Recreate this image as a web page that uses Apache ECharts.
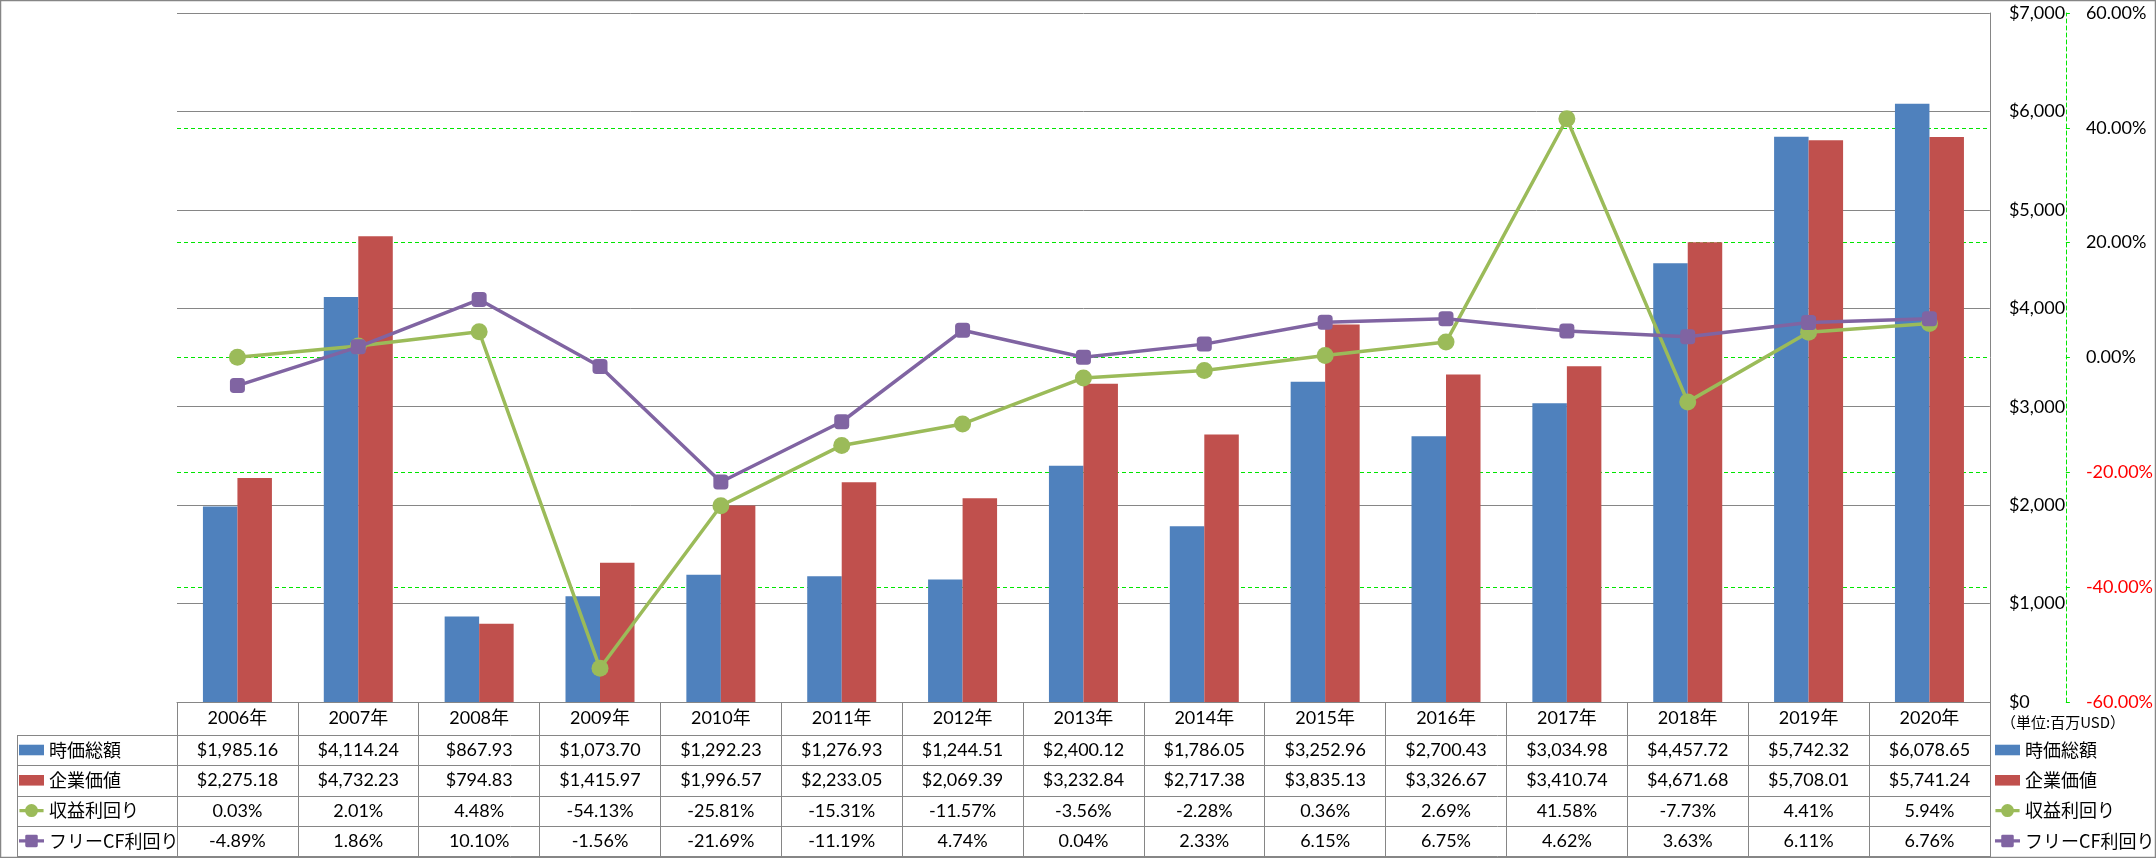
<!DOCTYPE html>
<html>
<head>
<meta charset="utf-8">
<script src="https://cdn.jsdelivr.net/npm/echarts@6/dist/echarts.min.js"></script>
<style>
html,body{margin:0;padding:0;background:#fff;}
#chart{width:2156px;height:858px;}
</style>
</head>
<body>
<div id="chart"></div>
<script>
// ---- data ----
const years = ['2006年','2007年','2008年','2009年','2010年','2011年','2012年','2013年','2014年','2015年','2016年','2017年','2018年','2019年','2020年'];
const marketCap = [1985.16,4114.24,867.93,1073.70,1292.23,1276.93,1244.51,2400.12,1786.05,3252.96,2700.43,3034.98,4457.72,5742.32,6078.65];
const enterpriseValue = [2275.18,4732.23,794.83,1415.97,1996.57,2233.05,2069.39,3232.84,2717.38,3835.13,3326.67,3410.74,4671.68,5708.01,5741.24];
const earningsYield = [0.03,2.01,4.48,-54.13,-25.81,-15.31,-11.57,-3.56,-2.28,0.36,2.69,41.58,-7.73,4.41,5.94];
const fcfYield = [-4.89,1.86,10.10,-1.56,-21.69,-11.19,4.74,0.04,2.33,6.15,6.75,4.62,3.63,6.11,6.76];
const seriesNames = ['時価総額','企業価値','収益利回り','フリーCF利回り'];
const unitLabel = '（単位:百万USD）';

// ---- layout ----
const W = 2156, H = 858;
const plotL = 177, plotR = 1991, plotT = 13, plotB = 702;
const tableL = 17;
const headerH = 33, rowH = 30.3;
const gray = '#868686';
const green = '#00E600';
const numFont = 'Lato, "Noto Sans CJK JP", sans-serif';
const jpFont = '"Noto Sans CJK JP", sans-serif';

const fmtMoney = v => '$' + v.toLocaleString('en-US',{minimumFractionDigits:2, maximumFractionDigits:2});
const fmtPct = v => v.toFixed(2) + '%';

// legend key shapes (line with marker, Excel style)
const circleKey = 'path://M0,5.3 L26,5.3 L26,8.7 L0,8.7 Z M6,7 A7,7 0 1,1 20,7 A7,7 0 1,1 6,7 Z';
const squareKey = 'path://M0,5.3 L26,5.3 L26,8.7 L0,8.7 Z M8,0.5 L18,0.5 Q19.5,0.5 19.5,2 L19.5,12 Q19.5,13.5 18,13.5 L8,13.5 Q6.5,13.5 6.5,12 L6.5,2 Q6.5,0.5 8,0.5 Z';

const chart = echarts.init(document.getElementById('chart'), null, {renderer:'canvas'});

// table rule lines
const graphics = [];
graphics.push({type:'rect', shape:{x:0.5,y:0.5,width:W-1,height:H-1}, style:{fill:'none', stroke:gray, lineWidth:1.5}, silent:true});
const rowTops = [plotB + headerH];
for (let i = 1; i <= 4; i++) rowTops.push(plotB + headerH + rowH * i);
rowTops.forEach(y => {
  const yy = Math.round(y) + 0.5;
  graphics.push({type:'line', shape:{x1:tableL, y1:yy, x2:plotR, y2:yy}, style:{stroke:gray, lineWidth:1}, silent:true});
});
graphics.push({type:'line', shape:{x1:tableL+0.5, y1:plotB+headerH, x2:tableL+0.5, y2:Math.round(plotB+headerH+rowH*4)}, style:{stroke:gray, lineWidth:1}, silent:true});

const legendBase = {
  orient:'vertical', itemWidth:25, itemHeight:13, itemGap:10.3, padding:0,
  selectedMode:false,
  textStyle:{fontSize:18, lineHeight:20, fontFamily:jpFont, color:'#000'},
  data:[
    {name:seriesNames[0], icon:'path://M0,1 L26,1 L26,12 L0,12 Z'},
    {name:seriesNames[1], icon:'path://M0,1 L26,1 L26,12 L0,12 Z'},
    {name:seriesNames[2], icon:circleKey},
    {name:seriesNames[3], icon:squareKey}
  ]
};

const option = {
  animation:false,
  backgroundColor:'#fff',
  title:{text:unitLabel, left:2001, top:715, padding:0, textStyle:{fontSize:15, fontWeight:'normal', fontFamily:jpFont, color:'#000'}},
  legend:[
    Object.assign({}, legendBase, {left:19, top:740}),
    Object.assign({}, legendBase, {left:1995, top:740})
  ],
  grid:{left:plotL, right:W-plotR, top:plotT, bottom:H-plotB, containLabel:false},
  xAxis:{
    type:'category', data:years, boundaryGap:true,
    axisLine:{show:true, lineStyle:{color:gray, width:1}},
    axisTick:{show:true, length:Math.round(headerH+rowH*4), inside:false, lineStyle:{color:gray, width:1}},
    axisLabel:{
      interval:0, margin:0, color:'#000', fontFamily:numFont, fontSize:18,
      formatter:(value, idx) => `{h|${value}}\n{v|${fmtMoney(marketCap[idx])}}\n{v|${fmtMoney(enterpriseValue[idx])}}\n{v|${fmtPct(earningsYield[idx])}}\n{v|${fmtPct(fcfYield[idx])}}`,
      rich:{
        h:{lineHeight:headerH, fontSize:18, fontFamily:numFont, color:'#000'},
        v:{lineHeight:rowH, fontSize:18, fontFamily:numFont, color:'#000'}
      }
    },
    splitLine:{show:false}
  },
  yAxis:[
    {
      type:'value', position:'right', min:0, max:7000, interval:1000,
      axisLine:{show:true, lineStyle:{color:gray, width:1}},
      axisTick:{show:false},
      axisLabel:{margin:19, color:'#000', fontFamily:numFont, fontSize:18, formatter:v => '$' + v.toLocaleString('en-US')},
      splitLine:{show:true, lineStyle:{color:gray, width:1}}
    },
    {
      type:'value', position:'right', offset:76, min:-60, max:60, interval:20,
      axisLine:{show:true, lineStyle:{color:green, width:1, type:[4,3]}},
      axisTick:{show:true, inside:false, length:4, lineStyle:{color:green, width:1}},
      axisLabel:{margin:20, fontFamily:numFont, fontSize:18, formatter:v => v.toFixed(2) + '%',
        color:(v) => (Number(v) < 0 ? '#FF0000' : '#000')},
      splitLine:{show:true, showMinLine:false, showMaxLine:false, lineStyle:{color:green, width:1, type:[4,3]}}
    }
  ],
  series:[
    {name:seriesNames[0], type:'bar', data:marketCap, barWidth:34.5, barGap:'0%', itemStyle:{color:'#4F81BD'}},
    {name:seriesNames[1], type:'bar', data:enterpriseValue, barWidth:34.5, barGap:'0%', itemStyle:{color:'#C0504D'}},
    {name:seriesNames[2], type:'line', yAxisIndex:1, data:earningsYield, symbol:'circle', symbolSize:17,
      lineStyle:{color:'#9BBB59', width:3.5}, itemStyle:{color:'#9BBB59'}, z:5},
    {name:seriesNames[3], type:'line', yAxisIndex:1, data:fcfYield, symbol:'roundRect', symbolSize:15,
      lineStyle:{color:'#8064A2', width:3.5}, itemStyle:{color:'#8064A2'}, z:6}
  ],
  graphic:graphics
};
chart.setOption(option);
</script>
</body>
</html>
